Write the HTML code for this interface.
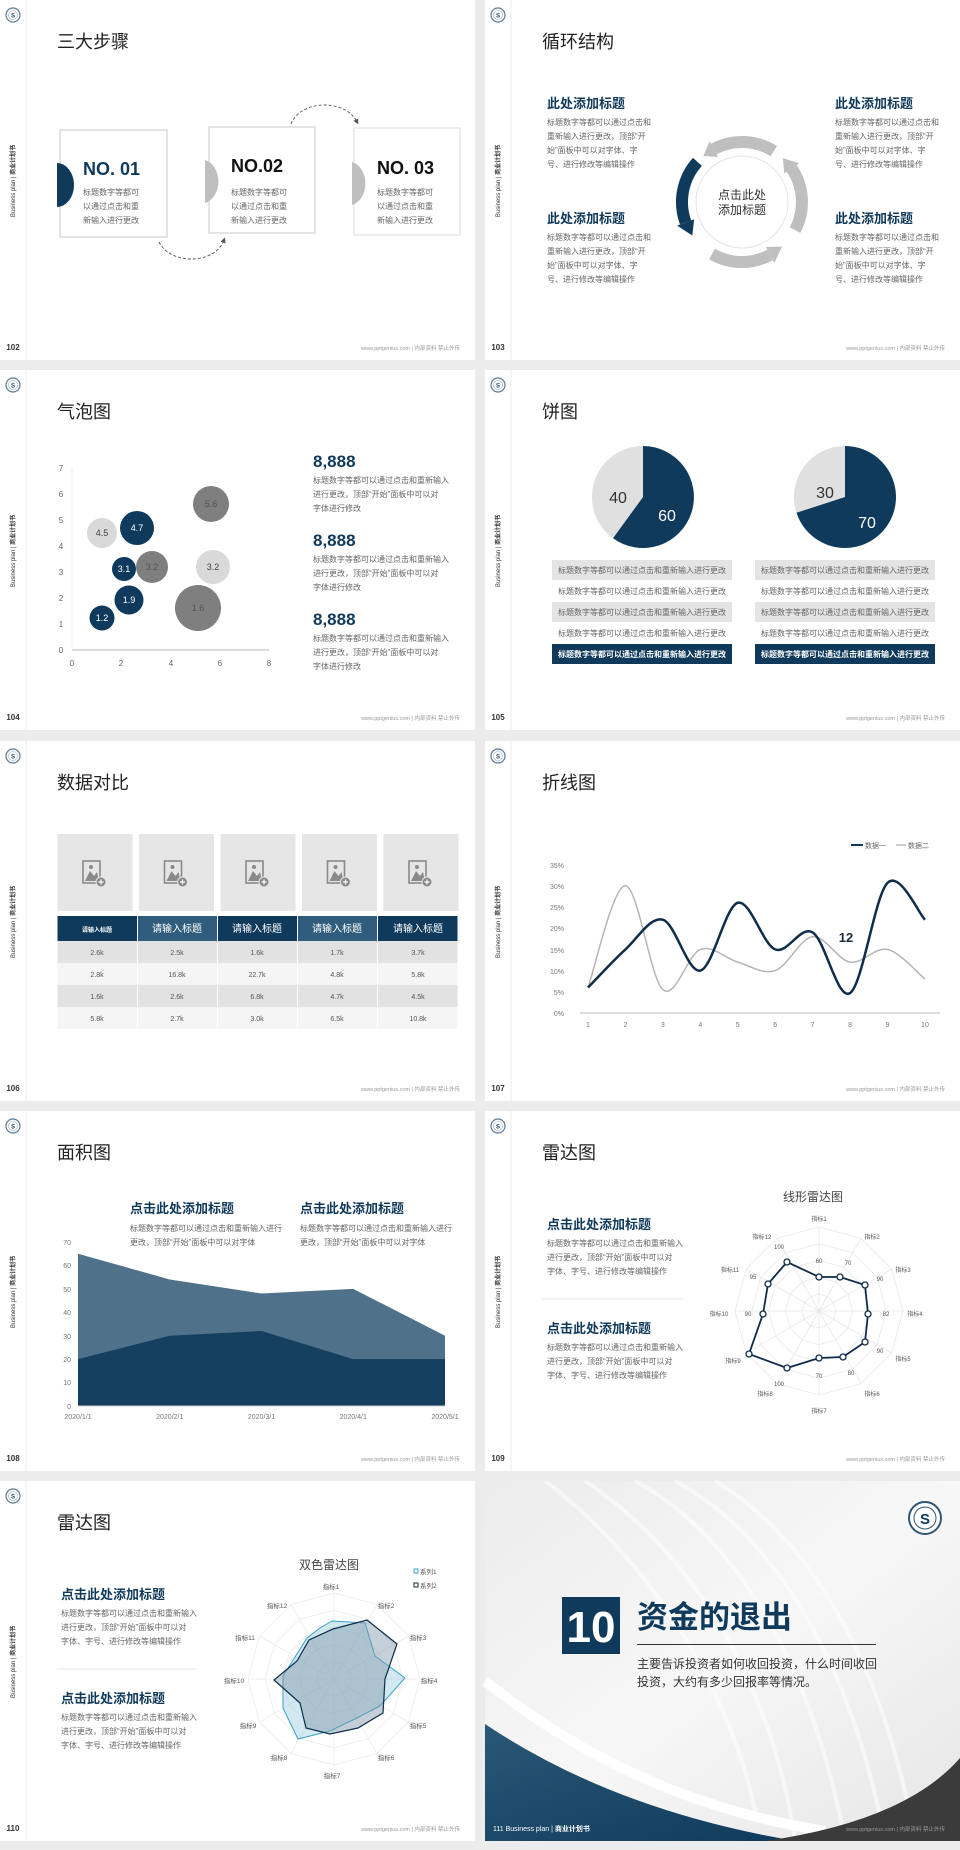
<!DOCTYPE html>
<html><head><meta charset="utf-8">
<style>
html,body{margin:0;padding:0;background:#ececec;}
svg{display:block;font-family:"Liberation Sans","Noto Sans CJK SC",sans-serif;}
.t{font-size:18px;fill:#222;}
.p{font-size:8px;fill:#666;}
.h{font-size:13px;font-weight:bold;fill:#0f3a5c;}
.ft{font-size:5.5px;fill:#999;}
.pn{font-size:8px;font-weight:bold;fill:#333;}
.ax{font-size:8px;fill:#666;}
</style></head><body>
<svg width="960" height="1850" viewBox="0 0 960 1850" xmlns="http://www.w3.org/2000/svg">
<defs>
<g id="chrome">
<rect x="0" y="0" width="475" height="360" fill="#fff"/>
<line x1="26" y1="0" x2="26" y2="360" stroke="#ececec" stroke-width="1"/>
<circle cx="13" cy="15" r="7" fill="#fff" stroke="#5a7a96" stroke-width="1.2"/>
<circle cx="13" cy="15" r="4.5" fill="none" stroke="#9ab" stroke-width="0.6"/>
<text x="13" y="17.5" font-size="6" font-weight="bold" fill="#0f3a5c" text-anchor="middle">S</text>
<text transform="translate(15,181) rotate(-90)" font-size="6" fill="#333" text-anchor="middle">Business plan | <tspan font-weight="bold">商业计划书</tspan></text>
<text x="460" y="350" class="ft" text-anchor="end">www.pptgenius.com | 内部资料 禁止外传</text>
</g>
<marker id="ah" markerWidth="6" markerHeight="6" refX="3" refY="3" orient="auto"><path d="M0,0 L6,3 L0,6 Z" fill="#555"/></marker>
</defs>

<!-- Slide 102 -->
<g transform="translate(0,0)">
<use href="#chrome"/>
<text x="13" y="350" class="pn" text-anchor="middle">102</text>
<text x="57" y="48" class="t">三大步骤</text>
<rect x="60" y="130" width="107" height="107" fill="#fff" stroke="#c8c8c8" stroke-width="1"/>
<path d="M57,163 A17,22 0 0 1 57,207 Z" fill="#0f3a5c"/>
<text x="83" y="175" font-size="18" font-weight="bold" fill="#0f3a5c">NO. 01</text>
<text x="83" y="195" class="p">标题数字等都可</text><text x="83" y="209" class="p">以通过点击和重</text><text x="83" y="223" class="p">新输入进行更改</text>
<rect x="209" y="127" width="106" height="106" fill="#fff" stroke="#c8c8c8" stroke-width="1"/>
<path d="M205,160 A17,22 0 0 1 205,203 Z" fill="#bfbfbf"/>
<text x="231" y="172" font-size="18" font-weight="bold" fill="#111">NO.02</text>
<text x="231" y="195" class="p">标题数字等都可</text><text x="231" y="209" class="p">以通过点击和重</text><text x="231" y="223" class="p">新输入进行更改</text>
<rect x="354" y="128" width="106" height="107" fill="#fff" stroke="#dcdcdc" stroke-width="1"/>
<path d="M352,162 A17,22 0 0 1 352,205 Z" fill="#bfbfbf"/>
<text x="377" y="174" font-size="18" font-weight="bold" fill="#111">NO. 03</text>
<text x="377" y="195" class="p">标题数字等都可</text><text x="377" y="209" class="p">以通过点击和重</text><text x="377" y="223" class="p">新输入进行更改</text>
<path d="M291,124 C300,100 345,98 357,122" fill="none" stroke="#555" stroke-width="0.9" stroke-dasharray="3,2" marker-end="url(#ah)"/>
<path d="M159,242 C170,265 215,265 224,240" fill="none" stroke="#555" stroke-width="0.9" stroke-dasharray="3,2" marker-end="url(#ah)"/>
</g>

<!-- Slide 103 -->
<g transform="translate(485,0)">
<use href="#chrome"/>
<text x="13" y="350" class="pn" text-anchor="middle">103</text>
<text x="57" y="48" class="t">循环结构</text>
<text x="62" y="108" class="h">此处添加标题</text>
<text x="62" y="125" class="p">标题数字等都可以通过点击和</text><text x="62" y="139" class="p">重新输入进行更改，顶部“开</text><text x="62" y="153" class="p">始”面板中可以对字体、字</text><text x="62" y="167" class="p">号、进行修改等编辑操作</text>
<text x="350" y="108" class="h">此处添加标题</text>
<text x="350" y="125" class="p">标题数字等都可以通过点击和</text><text x="350" y="139" class="p">重新输入进行更改，顶部“开</text><text x="350" y="153" class="p">始”面板中可以对字体、字</text><text x="350" y="167" class="p">号、进行修改等编辑操作</text>
<text x="62" y="223" class="h">此处添加标题</text>
<text x="62" y="240" class="p">标题数字等都可以通过点击和</text><text x="62" y="254" class="p">重新输入进行更改，顶部“开</text><text x="62" y="268" class="p">始”面板中可以对字体、字</text><text x="62" y="282" class="p">号、进行修改等编辑操作</text>
<text x="350" y="223" class="h">此处添加标题</text>
<text x="350" y="240" class="p">标题数字等都可以通过点击和</text><text x="350" y="254" class="p">重新输入进行更改，顶部“开</text><text x="350" y="268" class="p">始”面板中可以对字体、字</text><text x="350" y="282" class="p">号、进行修改等编辑操作</text>
<circle cx="257" cy="202" r="46" fill="#fff" stroke="#e4e4e4" stroke-width="1"/>
<text x="257" y="199" font-size="12" fill="#333" text-anchor="middle">点击此处</text>
<text x="257" y="214" font-size="12" fill="#333" text-anchor="middle">添加标题</text>
<path d="M288.8,151.1 A60,60 0 0 0 228.8,149.0" fill="none" stroke="#bfbfbf" stroke-width="12"/>
<polygon points="233.1,157.0 224.6,141.1 218.4,156.0" fill="#bfbfbf"/>
<path d="M310.0,230.1 A60,60 0 0 0 306.7,168.5" fill="none" stroke="#bfbfbf" stroke-width="12"/>
<polygon points="299.3,173.5 314.2,163.4 297.9,158.1" fill="#bfbfbf"/>
<path d="M227.0,254.0 A60,60 0 0 0 285.1,255.0" fill="none" stroke="#bfbfbf" stroke-width="12"/>
<polygon points="280.9,247.0 289.4,262.9 297.1,246.6" fill="#bfbfbf"/>
<path d="M212.4,161.9 A60,60 0 0 0 200.6,222.5" fill="none" stroke="#0f3a5c" stroke-width="12"/>
<polygon points="209.1,219.4 192.1,225.6 207.3,235.5" fill="#0f3a5c"/>
</g>

<!-- Slide 104 bubble -->
<g transform="translate(0,370)">
<use href="#chrome"/>
<text x="13" y="350" class="pn" text-anchor="middle">104</text>
<text x="57" y="48" class="t">气泡图</text>
<line x1="72" y1="98" x2="72" y2="280" stroke="#eee"/>
<line x1="72" y1="280" x2="269" y2="280" stroke="#bbb"/>
<g class="ax" text-anchor="middle">
<text x="61" y="283">0</text><text x="61" y="257">1</text><text x="61" y="231">2</text><text x="61" y="205">3</text><text x="61" y="179">4</text><text x="61" y="153">5</text><text x="61" y="127">6</text><text x="61" y="101">7</text>
<text x="72" y="296">0</text><text x="121" y="296">2</text><text x="171" y="296">4</text><text x="220" y="296">6</text><text x="269" y="296">8</text>
</g>
<g font-size="9" text-anchor="middle">
<circle cx="198" cy="238" r="23" fill="#7f7f7f"/><text x="198" y="241" fill="#555">1.6</text>
<circle cx="211" cy="134" r="18" fill="#7f7f7f"/><text x="211" y="137" fill="#555">5.6</text>
<circle cx="213" cy="197" r="17" fill="#d9d9d9"/><text x="213" y="200" fill="#444">3.2</text>
<circle cx="102" cy="163" r="15" fill="#d9d9d9"/><text x="102" y="166" fill="#444">4.5</text>
<circle cx="152" cy="197" r="16" fill="#7f7f7f"/><text x="152" y="200" fill="#555">3.2</text>
<circle cx="137" cy="158" r="17" fill="#0f3a5c"/><text x="137" y="161" fill="#fff">4.7</text>
<circle cx="124" cy="199" r="12" fill="#0f3a5c"/><text x="124" y="202" fill="#fff">3.1</text>
<circle cx="129" cy="230" r="14.5" fill="#0f3a5c"/><text x="129" y="233" fill="#fff">1.9</text>
<circle cx="102" cy="248" r="12.5" fill="#0f3a5c"/><text x="102" y="251" fill="#fff">1.2</text>
</g>
<text x="313" y="97" font-size="17" font-weight="bold" fill="#0f3a5c">8,888</text>
<text x="313" y="113" class="p">标题数字等都可以通过点击和重新输入</text><text x="313" y="127" class="p">进行更改，顶部“开始”面板中可以对</text><text x="313" y="141" class="p">字体进行修改</text>
<text x="313" y="176" font-size="17" font-weight="bold" fill="#0f3a5c">8,888</text>
<text x="313" y="192" class="p">标题数字等都可以通过点击和重新输入</text><text x="313" y="206" class="p">进行更改，顶部“开始”面板中可以对</text><text x="313" y="220" class="p">字体进行修改</text>
<text x="313" y="255" font-size="17" font-weight="bold" fill="#0f3a5c">8,888</text>
<text x="313" y="271" class="p">标题数字等都可以通过点击和重新输入</text><text x="313" y="285" class="p">进行更改，顶部“开始”面板中可以对</text><text x="313" y="299" class="p">字体进行修改</text>
</g>

<!-- Slide 105 pie -->
<g transform="translate(485,370)">
<use href="#chrome"/>
<text x="13" y="350" class="pn" text-anchor="middle">105</text>
<text x="57" y="48" class="t">饼图</text>
<path d="M158,127 L128.0,168.3 A51,51 0 0 1 158,76 Z" fill="#e0e0e0"/>
<path d="M158,127 L158,76 A51,51 0 1 1 128.0,168.3 Z" fill="#0f3a5c"/>
<text x="133" y="133" font-size="16" fill="#333" text-anchor="middle">40</text>
<text x="182" y="151" font-size="16" fill="#fff" text-anchor="middle">60</text>
<path d="M360,127 L311.5,142.8 A51,51 0 0 1 360,76 Z" fill="#e0e0e0"/>
<path d="M360,127 L360,76 A51,51 0 1 1 311.5,142.8 Z" fill="#0f3a5c"/>
<text x="340" y="128" font-size="16" fill="#333" text-anchor="middle">30</text>
<text x="382" y="158" font-size="16" fill="#fff" text-anchor="middle">70</text>
<g font-size="8" text-anchor="middle">
<rect x="67" y="190" width="180" height="20" fill="#e4e4e4"/><rect x="270" y="190" width="180" height="20" fill="#e4e4e4"/>
<rect x="67" y="232" width="180" height="20" fill="#e4e4e4"/><rect x="270" y="232" width="180" height="20" fill="#e4e4e4"/>
<rect x="67" y="274" width="180" height="20" fill="#0f3a5c"/><rect x="270" y="274" width="180" height="20" fill="#0f3a5c"/>
<text x="157" y="203" fill="#666">标题数字等都可以通过点击和重新输入进行更改</text><text x="360" y="203" fill="#666">标题数字等都可以通过点击和重新输入进行更改</text>
<text x="157" y="224" fill="#666">标题数字等都可以通过点击和重新输入进行更改</text><text x="360" y="224" fill="#666">标题数字等都可以通过点击和重新输入进行更改</text>
<text x="157" y="245" fill="#666">标题数字等都可以通过点击和重新输入进行更改</text><text x="360" y="245" fill="#666">标题数字等都可以通过点击和重新输入进行更改</text>
<text x="157" y="266" fill="#666">标题数字等都可以通过点击和重新输入进行更改</text><text x="360" y="266" fill="#666">标题数字等都可以通过点击和重新输入进行更改</text>
<text x="157" y="287" fill="#fff" font-weight="bold">标题数字等都可以通过点击和重新输入进行更改</text><text x="360" y="287" fill="#fff" font-weight="bold">标题数字等都可以通过点击和重新输入进行更改</text>
</g>
</g>

<!-- Slide 106 table -->
<g transform="translate(0,741)">
<use href="#chrome"/>
<text x="13" y="350" class="pn" text-anchor="middle">106</text>
<text x="57" y="48" class="t">数据对比</text>
<g id="ph">
<rect x="57.5" y="93" width="75" height="77" fill="#e7e6e6"/>
<rect x="83" y="120" width="17" height="22" fill="none" stroke="#8a8a8a" stroke-width="1.6"/>
<path d="M85,140 L90,130 L94,135 L97,131 L99,140 Z" fill="#8a8a8a"/><circle cx="91" cy="126" r="2" fill="#8a8a8a"/>
<circle cx="101" cy="141" r="5" fill="#8a8a8a" stroke="#e7e6e6" stroke-width="1"/>
<path d="M98.5,141 H103.5 M101,138.5 V143.5" stroke="#fff" stroke-width="1.2"/>
</g>
<use href="#ph" x="81.5"/><use href="#ph" x="163"/><use href="#ph" x="244.5"/><use href="#ph" x="326"/>
<rect x="57.5" y="175" width="400" height="25" fill="#0f3a5c"/>
<rect x="138" y="175" width="79" height="25" fill="#305d7e"/>
<rect x="297" y="175" width="80" height="25" fill="#305d7e"/>
<rect x="57.5" y="200" width="400" height="22" fill="#e2e2e2"/>
<rect x="57.5" y="222" width="400" height="22" fill="#f5f5f5"/>
<rect x="57.5" y="244" width="400" height="22" fill="#e2e2e2"/>
<rect x="57.5" y="266" width="400" height="22" fill="#f5f5f5"/>
<g stroke="#fff" stroke-width="1"><line x1="137.5" y1="175" x2="137.5" y2="288"/><line x1="217.5" y1="175" x2="217.5" y2="288"/><line x1="297.5" y1="175" x2="297.5" y2="288"/><line x1="377.5" y1="175" x2="377.5" y2="288"/></g>
<g text-anchor="middle">
<text x="97" y="191" font-size="6" fill="#fff" font-weight="bold">请输入标题</text>
<text x="177" y="191" font-size="10" fill="#fff">请输入标题</text><text x="257" y="191" font-size="10" fill="#fff">请输入标题</text><text x="337" y="191" font-size="10" fill="#fff">请输入标题</text><text x="418" y="191" font-size="10" fill="#fff">请输入标题</text>
</g>
<g text-anchor="middle" font-size="7" fill="#555">
<text x="97" y="214">2.6k</text><text x="177" y="214">2.5k</text><text x="257" y="214">1.6k</text><text x="337" y="214">1.7k</text><text x="418" y="214">3.7k</text>
<text x="97" y="236">2.8k</text><text x="177" y="236">16.8k</text><text x="257" y="236">22.7k</text><text x="337" y="236">4.8k</text><text x="418" y="236">5.8k</text>
<text x="97" y="258">1.6k</text><text x="177" y="258">2.6k</text><text x="257" y="258">6.8k</text><text x="337" y="258">4.7k</text><text x="418" y="258">4.5k</text>
<text x="97" y="280">5.8k</text><text x="177" y="280">2.7k</text><text x="257" y="280">3.0k</text><text x="337" y="280">6.5k</text><text x="418" y="280">10.8k</text>
</g>
</g>

<!-- Slide 107 line -->
<g transform="translate(485,741)">
<use href="#chrome"/>
<text x="13" y="350" class="pn" text-anchor="middle">107</text>
<text x="57" y="48" class="t">折线图</text>
<line x1="366" y1="104" x2="378" y2="104" stroke="#0f3a5c" stroke-width="2"/><text x="380" y="107" font-size="7" fill="#666">数据一</text>
<line x1="411" y1="104" x2="421" y2="104" stroke="#bbb" stroke-width="1.5"/><text x="423" y="107" font-size="7" fill="#666">数据二</text>
<g font-size="7" fill="#777" text-anchor="end">
<text x="79" y="275">0%</text><text x="79" y="254">5%</text><text x="79" y="233">10%</text><text x="79" y="212">15%</text><text x="79" y="190">20%</text><text x="79" y="169">25%</text><text x="79" y="148">30%</text><text x="79" y="127">35%</text>
</g>
<line x1="95" y1="272" x2="455" y2="272" stroke="#bbb"/>
<g font-size="7" fill="#777" text-anchor="middle" id="xl"></g>
<path id="l2" fill="none" stroke="#b5b5b5" stroke-width="1.5"/>
<path id="l1" fill="none" stroke="#0f2d4a" stroke-width="2.5"/>
<text x="361" y="201" font-size="13" font-weight="bold" fill="#1a2a3a" text-anchor="middle">12</text>
</g>

<!-- Slide 108 area -->
<g transform="translate(0,1111)">
<use href="#chrome"/>
<text x="13" y="350" class="pn" text-anchor="middle">108</text>
<text x="57" y="48" class="t">面积图</text>
<text x="130" y="102" class="h">点击此处添加标题</text>
<text x="130" y="120" class="p">标题数字等都可以通过点击和重新输入进行</text><text x="130" y="134" class="p">更改，顶部“开始”面板中可以对字体</text>
<text x="300" y="102" class="h">点击此处添加标题</text>
<text x="300" y="120" class="p">标题数字等都可以通过点击和重新输入进行</text><text x="300" y="134" class="p">更改，顶部“开始”面板中可以对字体</text>
<g font-size="7" fill="#777" text-anchor="end">
<text x="71" y="298">0</text><text x="71" y="274">10</text><text x="71" y="251">20</text><text x="71" y="228">30</text><text x="71" y="204">40</text><text x="71" y="181">50</text><text x="71" y="157">60</text><text x="71" y="134">70</text>
</g>
<path d="M78,142.7 L169.75,168.5 L261.5,182.5 L353.25,177.9 L445,224.7 L445,295 L78,295 Z" fill="#4f7189"/>
<path d="M78,248.1 L169.75,224.7 L261.5,220 L353.25,248.1 L445,248.1 L445,295 L78,295 Z" fill="#143f5e"/>
<line x1="78" y1="295" x2="445" y2="295" stroke="#ccc"/>
<g font-size="7" fill="#777" text-anchor="middle">
<text x="78" y="308">2020/1/1</text><text x="169.75" y="308">2020/2/1</text><text x="261.5" y="308">2020/3/1</text><text x="353.25" y="308">2020/4/1</text><text x="445" y="308">2020/5/1</text>
</g>
</g>

<!-- Slide 109 radar line -->
<g transform="translate(485,1111)">
<use href="#chrome"/>
<text x="13" y="350" class="pn" text-anchor="middle">109</text>
<text x="57" y="48" class="t">雷达图</text>
<text x="62" y="118" class="h">点击此处添加标题</text>
<text x="62" y="135" class="p">标题数字等都可以通过点击和重新输入</text><text x="62" y="149" class="p">进行更改，顶部“开始”面板中可以对</text><text x="62" y="163" class="p">字体、字号、进行修改等编辑操作</text>
<line x1="57" y1="188" x2="198" y2="188" stroke="#e6e6e6"/>
<text x="62" y="222" class="h">点击此处添加标题</text>
<text x="62" y="239" class="p">标题数字等都可以通过点击和重新输入</text><text x="62" y="253" class="p">进行更改，顶部“开始”面板中可以对</text><text x="62" y="267" class="p">字体、字号、进行修改等编辑操作</text>
<text x="328" y="90" font-size="12" fill="#444" text-anchor="middle">线形雷达图</text>
<g id="grid1" fill="none" stroke="#e8e8e8" stroke-width="0.8"></g>
<g font-size="6" fill="#555" text-anchor="middle">
<text x="334" y="110">指标1</text><text x="387" y="128">指标2</text><text x="418" y="161">指标3</text><text x="430" y="205">指标4</text><text x="418" y="250">指标5</text><text x="387" y="285">指标6</text><text x="334" y="302">指标7</text><text x="280" y="285">指标8</text><text x="248" y="252">指标9</text><text x="234" y="205">指标10</text><text x="245" y="161">指标11</text><text x="277" y="128">指标12</text>
<text x="334" y="152">60</text><text x="363" y="154">70</text><text x="395" y="170">90</text><text x="401" y="205">82</text><text x="395" y="242">90</text><text x="366" y="264">80</text><text x="334" y="267">70</text><text x="294" y="275">100</text><text x="263" y="205">90</text><text x="268" y="168">95</text><text x="294" y="138">100</text>
</g>
<polygon points="334,166 355,166 380,174 383,203 380,231 358,246 334,247 302,257 264,243 278,203 283,173 302,151" fill="none" stroke="#0f2d4a" stroke-width="1.8"/>
<g fill="#fff" stroke="#0f2d4a" stroke-width="1.3">
<circle cx="334" cy="166" r="3"/><circle cx="355" cy="166" r="3"/><circle cx="380" cy="174" r="3"/><circle cx="383" cy="203" r="3"/><circle cx="380" cy="231" r="3"/><circle cx="358" cy="246" r="3"/><circle cx="334" cy="247" r="3"/><circle cx="302" cy="257" r="3"/><circle cx="264" cy="243" r="3"/><circle cx="278" cy="203" r="3"/><circle cx="283" cy="173" r="3"/><circle cx="302" cy="151" r="3"/>
</g>
</g>

<!-- Slide 110 radar 2 -->
<g transform="translate(0,1481)">
<use href="#chrome"/>
<text x="13" y="350" class="pn" text-anchor="middle">110</text>
<text x="57" y="48" class="t">雷达图</text>
<text x="61" y="118" class="h">点击此处添加标题</text>
<text x="61" y="135" class="p">标题数字等都可以通过点击和重新输入</text><text x="61" y="149" class="p">进行更改，顶部“开始”面板中可以对</text><text x="61" y="163" class="p">字体、字号、进行修改等编辑操作</text>
<line x1="57" y1="188" x2="197" y2="188" stroke="#e6e6e6"/>
<text x="61" y="222" class="h">点击此处添加标题</text>
<text x="61" y="239" class="p">标题数字等都可以通过点击和重新输入</text><text x="61" y="253" class="p">进行更改，顶部“开始”面板中可以对</text><text x="61" y="267" class="p">字体、字号、进行修改等编辑操作</text>
<text x="329" y="88" font-size="12" fill="#444" text-anchor="middle">双色雷达图</text>
<rect x="414" y="88" width="4" height="4" fill="#fff" stroke="#3aa0c8"/><text x="420" y="93" font-size="6.5" fill="#555">系列1</text>
<rect x="414" y="102" width="4" height="4" fill="#fff" stroke="#0f2d4a"/><text x="420" y="107" font-size="6.5" fill="#555">系列2</text>
<g id="grid2" fill="none" stroke="#ececec" stroke-width="0.8"></g>
<g font-size="6.5" fill="#555" text-anchor="middle">
<text x="331" y="108">指标1</text><text x="386" y="127">指标2</text><text x="418" y="159">指标3</text><text x="429" y="202">指标4</text><text x="418" y="247">指标5</text><text x="386" y="279">指标6</text><text x="332" y="297">指标7</text><text x="279" y="279">指标8</text><text x="248" y="247">指标9</text><text x="234" y="202">指标10</text><text x="245" y="159">指标11</text><text x="277" y="127">指标12</text>
</g>
<polygon points="332,140 365,142 375,175 405,197 380,225 355,238 330,250 298,258 283,227 283,195 307,157 320,147" fill="#7fc0d8" fill-opacity="0.35" stroke="#3aa0c8" stroke-width="1"/>
<polygon points="333,148 367,139 397,163 385,198 383,232 358,247 330,253 306,247 300,222 274,199 297,180 309,159" fill="#7f96a8" fill-opacity="0.45" stroke="#0f2d4a" stroke-width="1.2"/>
</g>

<!-- Slide 111 section -->
<g transform="translate(485,1481)">
<defs>
<linearGradient id="bg111" x1="0" y1="0" x2="1" y2="1"><stop offset="0" stop-color="#ececec"/><stop offset="0.5" stop-color="#f7f7f7"/><stop offset="1" stop-color="#e6e6e6"/></linearGradient>
<linearGradient id="nv" x1="0" y1="0" x2="1" y2="1"><stop offset="0" stop-color="#2a5876"/><stop offset="1" stop-color="#0f3a5c"/></linearGradient>
</defs>
<rect x="0" y="0" width="475" height="360" fill="url(#bg111)"/>
<g fill="none" stroke="#fff" stroke-width="4" opacity="0.55">
<path d="M150,0 C260,60 330,200 360,360"/><path d="M190,0 C300,60 370,200 400,360"/><path d="M230,0 C330,60 400,190 430,360"/><path d="M100,0 C220,80 290,220 310,360"/><path d="M60,0 C180,90 250,230 270,330"/>
</g>
<path d="M0,200 Q150,320 340,350" fill="none" stroke="#fff" stroke-width="10"/>
<path d="M0,243 Q130,330 311,360 L0,360 Z" fill="url(#nv)"/>
<path d="M475,277 Q420,340 280,360 L475,360 Z" fill="#3b3b3b"/>
<circle cx="440" cy="37" r="16" fill="#fff" stroke="#2d5573" stroke-width="2"/>
<circle cx="440" cy="37" r="11" fill="none" stroke="#2d5573" stroke-width="1"/>
<text x="440" y="43" font-size="15" font-weight="bold" fill="#0f3a5c" text-anchor="middle">S</text>
<rect x="77" y="116" width="58" height="57" fill="#0f3a5c"/>
<text x="106" y="161" font-size="44" font-weight="bold" fill="#fff" text-anchor="middle">10</text>
<text x="152" y="147" font-size="31" font-weight="bold" fill="#0f3a5c">资金的退出</text>
<line x1="152" y1="163.5" x2="391" y2="163.5" stroke="#333" stroke-width="1"/>
<text x="152" y="187" font-size="12" fill="#333">主要告诉投资者如何收回投资，什么时间收回</text>
<text x="152" y="205" font-size="12" fill="#333">投资，大约有多少回报率等情况。</text>
<text x="8" y="350" font-size="7" fill="#fff">111  Business plan | <tspan font-weight="bold">商业计划书</tspan></text>
<text x="460" y="350" class="ft" text-anchor="end" fill="#aaa">www.pptgenius.com | 内部资料 禁止外传</text>
</g>
</svg>
<script>
(function(){
var NS="http://www.w3.org/2000/svg";
function X(i){return 103+(i)*37.44;} function Y(v){return 272-v*4.24;}
function cr(vals){var p=vals.map(function(v,i){return [X(i),Y(v)];});var d="M"+p[0][0]+","+p[0][1];
for(var i=0;i<p.length-1;i++){var a=p[i-1]||p[i],b=p[i],c=p[i+1],e=p[i+2]||c;
d+=" C"+(b[0]+(c[0]-a[0])/6)+","+(b[1]+(c[1]-a[1])/6)+" "+(c[0]-(e[0]-b[0])/6)+","+(c[1]-(e[1]-b[1])/6)+" "+c[0]+","+c[1];}return d;}
document.getElementById("l1").setAttribute("d",cr([6,15,22,10,26,15,19,4.7,30.7,22]));
document.getElementById("l2").setAttribute("d",cr([6,30,5.5,15,12,10,18,12,15,8]));
var xl=document.getElementById("xl");
for(var i=0;i<10;i++){var t=document.createElementNS(NS,"text");t.setAttribute("x",X(i));t.setAttribute("y",286);t.textContent=i+1;xl.appendChild(t);}
function grid(id,cx,cy,R){var g=document.getElementById(id);
for(var k=1;k<=5;k++){var r=R*k/5,pts=[];for(var j=0;j<12;j++){var a=(90-30*j)*Math.PI/180;pts.push((cx+r*Math.cos(a)).toFixed(1)+","+(cy-r*Math.sin(a)).toFixed(1));}
var pg=document.createElementNS(NS,"polygon");pg.setAttribute("points",pts.join(" "));g.appendChild(pg);}
for(var j=0;j<12;j++){var a=(90-30*j)*Math.PI/180;var l=document.createElementNS(NS,"line");l.setAttribute("x1",cx);l.setAttribute("y1",cy);l.setAttribute("x2",cx+R*Math.cos(a));l.setAttribute("y2",cy-R*Math.sin(a));g.appendChild(l);}}
grid("grid1",334,200,84);grid("grid2",334,198,86);
})();
</script>
</body></html>
